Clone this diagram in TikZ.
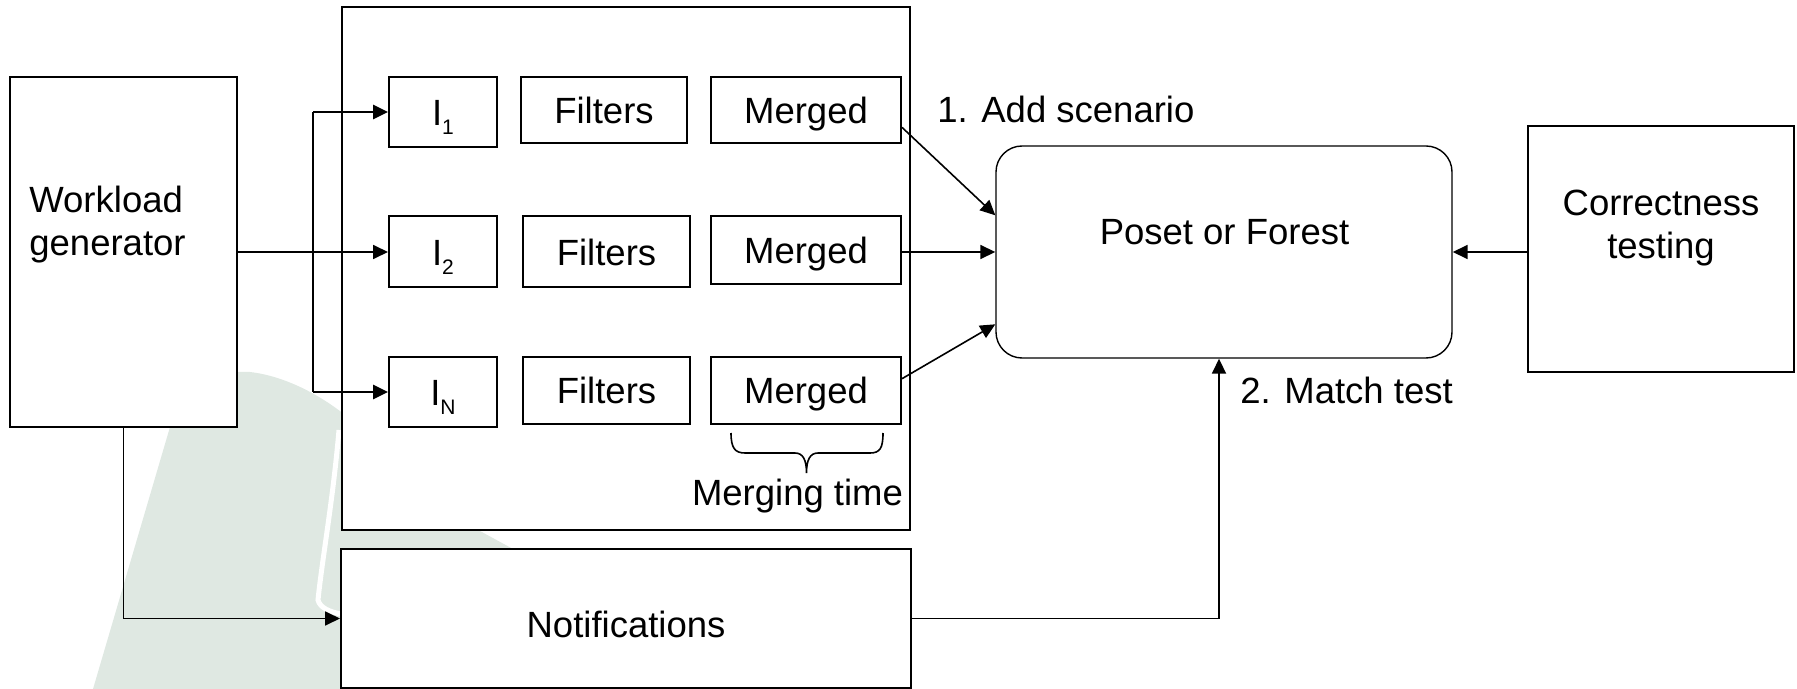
\documentclass[tikz,border=0pt]{standalone}
\usepackage{fontspec}
\setmainfont{Liberation Sans}
\usetikzlibrary{arrows.meta,calc}
\definecolor{wmark}{RGB}{223,232,226}
\newcommand{\isub}[1]{I\raisebox{-4.8pt}{\fontsize{10.5}{12}\selectfont #1}}
\begin{document}
\begin{tikzpicture}[x=0.5pt,y=-0.5pt,
  font=\fontsize{18.25}{21.5}\selectfont,
  box/.style={draw, line width=1pt, fill=white, inner sep=0pt, text height=13.07pt, text depth=0pt},
  txt/.style={inner sep=0pt},
  arr/.style={line width=0.9pt, -{Triangle[length=7.5pt,width=7pt]}},
  arrthick/.style={line width=1.4pt, -{Triangle[length=7.5pt,width=7pt]}},
  arrthin/.style={line width=0.8pt, -{Triangle[length=7.5pt,width=7pt]}}]
\useasboundingbox (0,0) rectangle (1797,689);
% watermark
\fill[wmark] (93,689) -- (170,427) .. controls (185,385) and (215,370) .. (250,372)
  .. controls (285,376) and (320,395) .. (345,415) -- (480,531) -- (513,549) -- (560,689) -- cycle;
\draw[white, line width=2.5pt] (339,430) .. controls (333,500) and (322,560) .. (318,600)
  .. controls (320,608) and (330,612) .. (341,614);
% boxes
\node[box, minimum width=113.5pt, minimum height=175pt] (wl) at (123.5,252) {};
\node[box, minimum width=284pt, minimum height=261.5pt] (cont) at (626,268.5) {};
\node[box, minimum width=285pt, minimum height=69.5pt] (notif) at (626,618.5) {};
\node[box, minimum width=54pt, minimum height=35pt] (I1) at (443,112) {\isub{1}};
\node[box, minimum width=83pt, minimum height=33pt] (F1) at (604,110) {Filters};
\node[box, minimum width=95pt, minimum height=33pt] (M1) at (806,110) {Merged};
\node[box, minimum width=54pt, minimum height=35.5pt] (I2) at (443,252) {\isub{2}};
\node[box, minimum width=83.5pt, minimum height=35.5pt] (F2) at (606.5,252) {Filters};
\node[box, minimum width=95pt, minimum height=34pt] (M2) at (806,250.5) {Merged};
\node[box, minimum width=54pt, minimum height=35pt] (IN) at (443,392) {\isub{N}};
\node[box, minimum width=83.5pt, minimum height=33.5pt] (FN) at (606.5,390.5) {Filters};
\node[box, minimum width=95pt, minimum height=33.5pt] (MN) at (806,390.5) {Merged};
\node[draw, line width=0.7pt, fill=white, rounded corners=13pt, minimum width=228pt, minimum height=106pt] (poset) at (1224,252) {};
\node[box, minimum width=133pt, minimum height=122.5pt] (ct) at (1661,249) {};
% texts
\node[txt, anchor=base west, align=left] (wltext) at (29,256) {Workload\\generator};
\node[txt, anchor=base, align=center] (cttext) at (1661,259) {Correctness\\testing};
\node[txt, anchor=base] (pftext) at (1224.5,245) {Poset or Forest};
\node[txt, anchor=base] (nttext) at (626,637) {Notifications};
\node[txt, anchor=base west] (addlbl) at (937,123) {1. Add scenario};
\node[txt, anchor=base west] (matchlbl) at (1240,403) {2. Match test};
\node[txt, anchor=base] (mtlbl) at (797.5,505) {Merging time};
% brace
\draw[line width=0.8pt] (731,433) .. controls (731,448) and (735,453) .. (745,453) -- (795,453)
  .. controls (803,453) and (806.5,460) .. (806.5,473)
  .. controls (806.5,460) and (810,453) .. (818,453) -- (870,453)
  .. controls (880,453) and (883,448) .. (883,433);
% connectors
\coordinate (br) at (313,252);
\draw[arr] (wl.east |- I2.west) -- (I2.west);
\draw[line width=0.9pt] (br |- I1.west) -- (br |- IN.west);
\draw[arrthick] (br |- I1.west) -- (I1.west);
\draw[arrthick] (br |- IN.west) -- (IN.west);
\draw[arr] (wl.south) |- (notif.west);
\draw[arr] (notif.east) -| ([xshift=-2.5pt]poset.south);
\draw[arr] (ct.west |- poset.east) -- (poset.east);
\draw[arrthin] ([yshift=-8.7pt]M1.east) -- ([yshift=18.35pt]poset.west);
\draw[arrthin] (M2.east |- poset.west) -- (poset.west);
\draw[arrthin] ([yshift=5.9pt]MN.east) -- ([yshift=-36.15pt]poset.west);
\end{tikzpicture}
\end{document}
